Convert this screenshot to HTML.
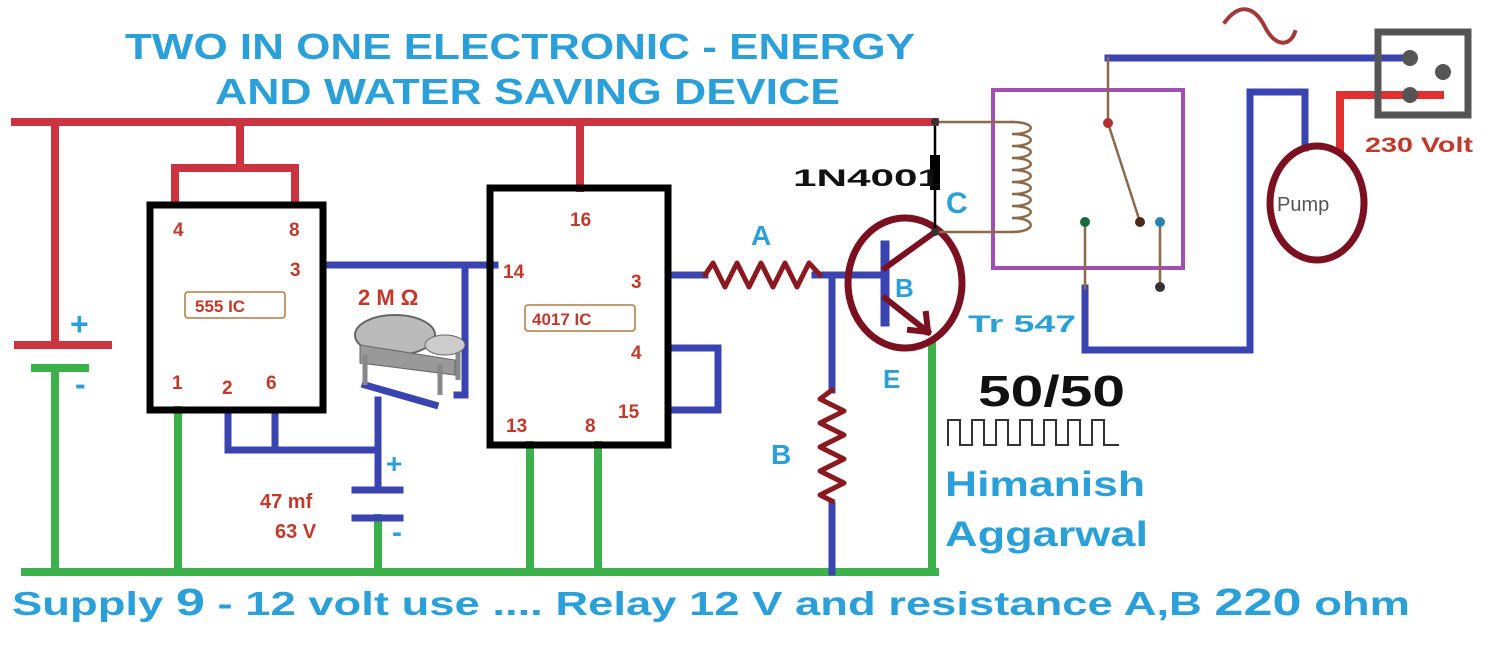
<!DOCTYPE html><html><head><style>body{margin:0;background:#fff}svg{display:block}text{font-family:"Liberation Sans",sans-serif;font-weight:bold}</style></head><body>
<svg width="1504" height="646" viewBox="0 0 1504 646" xmlns="http://www.w3.org/2000/svg">
<g fill="#2ba0d8" font-size="36">
<text x="125" y="59" textLength="790" lengthAdjust="spacingAndGlyphs">TWO IN ONE ELECTRONIC - ENERGY</text>
<text x="215" y="104" textLength="625" lengthAdjust="spacingAndGlyphs">AND WATER SAVING DEVICE</text>
</g>
<g stroke-linecap="square" fill="none">
<g stroke="#cc3340" stroke-width="8">
<path d="M15 122H935M55 122V345M18 345H108M240 122V168M175 200V168H295V200M580 122V188"/>
<path d="M1340 148V95H1440" stroke="#e03030"/>
</g>
<g stroke="#3cb04a" stroke-width="8">
<path d="M25 572H935M55 368V572M35 368H85M178 410V572M378 518V572M530 445V572M598 445V572M932 345V572"/>
</g>
<g stroke="#3a44b0" stroke-width="7">
<path d="M323 265H495M465 265V395H457M228 410V450H378M275 410V450M378 400V490M355 490H400M355 518H400M365 385L435 405"/>
<path d="M668 275H705M815 275H885M832 275V390M832 505V572M668 348H718V410H668"/>
<path d="M1108 58H1400M1085 288V350H1250V92H1305V148"/>
</g>
<path d="M885 245V322" stroke="#3a44b0" stroke-width="9"/>
<rect x="150" y="205" width="173" height="205" stroke="#000" stroke-width="7"/>
<rect x="490" y="188" width="178" height="257" stroke="#000" stroke-width="7"/>
<rect x="185" y="292" width="100" height="26" rx="3" stroke="#b07840" stroke-width="1.5"/>
<rect x="525" y="305" width="110" height="26" rx="3" stroke="#b07840" stroke-width="1.5"/>
<path d="M705 275l8-12 12 24 12-24 12 24 12-24 12 24 12-24 12 24 12-24 11 12" stroke="#8a1a20" stroke-width="5" stroke-linejoin="round"/>
<path d="M832 390l-12 9 24 12-24 12 24 12-24 12 24 12-24 12 24 12-24 12 12 6" stroke="#8a1a20" stroke-width="5" stroke-linejoin="round"/>
<ellipse cx="905" cy="283" rx="57" ry="65" stroke="#7a1020" stroke-width="7"/>
<path d="M885 268L935 232M885 298L928 332" stroke="#7a1020" stroke-width="6"/>
<path d="M928 332l-18-2M928 332l-2-18" stroke="#7a1020" stroke-width="6"/>
<path d="M935 122V232" stroke="#000" stroke-width="2.5"/>
<rect x="930" y="155" width="10" height="35" fill="#000"/>
<rect x="993" y="90" width="190" height="178" stroke="#a050b0" stroke-width="4"/>
<path d="M935 122H1012M935 232H1012" stroke="#8a6a4a" stroke-width="2.5"/>
<path d="M1012 122c25 0 25 12 0 12c25 0 25 12 0 12c25 0 25 12 0 12c25 0 25 12 0 12c25 0 25 12 0 12c25 0 25 12 0 12c25 0 25 12 0 12c25 0 25 12 0 12c25 0 25 14 0 14" stroke="#8a6a4a" stroke-width="2.5"/>
<path d="M1108 58V123L1140 222M1085 222V288M1160 222V287" stroke="#8a6a4a" stroke-width="2.5"/>
<rect x="1378" y="32" width="90" height="83" stroke="#555" stroke-width="7"/>
<ellipse cx="1317" cy="203" rx="47" ry="57" stroke="#7a1020" stroke-width="7"/>
<path d="M1225 22c15-20 30-15 40 5s25 20 30 5" stroke="#a03a3a" stroke-width="4"/>
<path d="M948 445V420H960V445H972V420H984V445H996V420H1008V445H1020V420H1032V445H1044V420H1056V445H1068V420H1080V445H1092V420H1104V445H1118" stroke="#333" stroke-width="2"/>
</g>
<g fill="#555"><circle cx="1410" cy="58" r="8"/><circle cx="1410" cy="95" r="8"/><circle cx="1443" cy="72" r="8"/></g>
<circle cx="1108" cy="123" r="5" fill="#b03030"/><circle cx="1140" cy="222" r="5" fill="#4a2a1a"/><circle cx="1085" cy="222" r="5" fill="#1a6a3a"/><circle cx="1160" cy="222" r="5" fill="#2a80b0"/><circle cx="1160" cy="287" r="5" fill="#333"/><circle cx="935" cy="122" r="4" fill="#333"/><circle cx="935" cy="232" r="4" fill="#333"/>
<g><ellipse cx="395" cy="335" rx="40" ry="20" fill="#bbb" stroke="#666" stroke-width="2"/><path d="M360 345l95 15v15l-95-12z" fill="#999" stroke="#666"/><path d="M365 355v30M440 365v30M458 340v40" stroke="#888" stroke-width="5"/><ellipse cx="445" cy="345" rx="20" ry="10" fill="#ccc" stroke="#666"/></g>
<g fill="#c0392b" font-size="19">
<text x="173" y="236">4</text><text x="289" y="236">8</text><text x="290" y="276">3</text>
<text x="172" y="389">1</text><text x="222" y="394">2</text><text x="266" y="389">6</text>
<text x="570" y="226">16</text><text x="503" y="278">14</text><text x="631" y="288">3</text><text x="631" y="359">4</text><text x="618" y="418">15</text><text x="506" y="432">13</text><text x="585" y="432">8</text>
<text x="195" y="312" font-size="17">555  IC</text><text x="532" y="325" font-size="17">4017  IC</text>
<text x="358" y="305" font-size="22">2 M Ω</text>
<text x="260" y="508" font-size="20">47  mf</text><text x="275" y="538" font-size="20">63 V</text>
<text x="1365" y="152" font-size="21" textLength="108" lengthAdjust="spacingAndGlyphs">230  Volt</text>
</g>
<text x="1277" y="211" font-size="20" fill="#555" style="font-weight:normal">Pump</text>
<g fill="#2ba0d8">
<text x="70" y="335" font-size="32">+</text><text x="75" y="395" font-size="32">-</text>
<text x="386" y="473" font-size="28">+</text><text x="392" y="542" font-size="30">-</text>
<text x="751" y="245" font-size="28">A</text><text x="895" y="297" font-size="26">B</text><text x="883" y="388" font-size="26">E</text><text x="771" y="464" font-size="28">B</text><text x="946" y="213" font-size="30">C</text>
<text x="968" y="332" font-size="24" textLength="108" lengthAdjust="spacingAndGlyphs">Tr 547</text>
<text x="945" y="496" font-size="35" textLength="200" lengthAdjust="spacingAndGlyphs">Himanish</text><text x="945" y="546" font-size="35" textLength="203" lengthAdjust="spacingAndGlyphs">Aggarwal</text>
<text x="12" y="615" font-size="33" textLength="1398" lengthAdjust="spacingAndGlyphs">Supply <tspan font-size="38">9</tspan> - 12 volt use .... Relay 12 V and resistance A,B <tspan font-size="38">220</tspan> ohm</text>
</g>
<text x="793" y="186" font-size="24" fill="#111" textLength="148" lengthAdjust="spacingAndGlyphs">1N4001</text>
<text x="978" y="406" font-size="44" fill="#111" textLength="147" lengthAdjust="spacingAndGlyphs">50/50</text>
</svg></body></html>
